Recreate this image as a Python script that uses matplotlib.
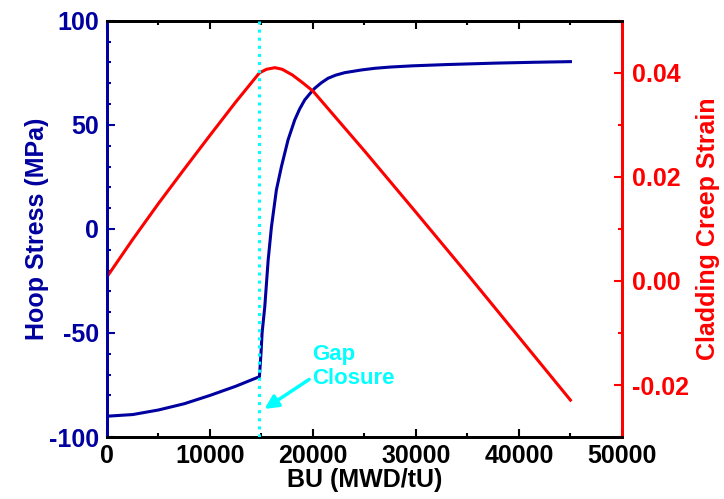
import matplotlib
matplotlib.use("Agg")
import matplotlib.pyplot as plt
from matplotlib.ticker import MultipleLocator, FormatStrFormatter

plt.rcParams['font.family'] = ['Liberation Sans', 'DejaVu Sans']
plt.rcParams['font.weight'] = 'bold'
plt.rcParams['axes.unicode_minus'] = False

# hoop stress (MPa) vs burnup
bu_stress = [0, 2500, 5000, 7500, 10000, 12500, 14800, 14950, 15060, 15320, 15650,
             15970, 16450, 16940, 17580, 18230, 18700, 19200, 19700, 20170, 20800,
             21460, 22200, 23080, 24700, 26000, 27500, 29710, 33000, 37790, 41500, 45000]
hoop_stress = [-90, -89.2, -87, -84, -80, -75.6, -71, -60, -50, -37.4, -14.9,
               1.1, 18.8, 30, 42.8, 52.4, 57.6, 62, 65, 67.6, 70.2,
               72.4, 73.9, 75.1, 76.4, 77.2, 77.8, 78.4, 79.0, 79.7, 80.1, 80.4]

# cladding creep strain vs burnup
bu_strain = [0, 2500, 5000, 7500, 10000, 12500, 14800, 15500, 16300, 17000, 18000,
             19000, 20000, 25000, 30000, 35000, 40000, 45000]
creep_strain = [0.0008, 0.0080, 0.0149, 0.0215, 0.0280, 0.0344, 0.0400, 0.0407, 0.0410,
                0.0407, 0.0396, 0.0381, 0.0365, 0.0250, 0.0132, 0.0013, -0.0108, -0.0229]

gap_closure_bu = 14800

navy = '#0000A0'
red = '#FF0000'
cyan = '#00FFFF'

fig = plt.figure(figsize=(7.24, 4.99), dpi=100)
ax1 = fig.add_axes([0.1478, 0.1242, 0.7112, 0.834])
ax2 = ax1.twinx()

ax1.plot(bu_stress, hoop_stress, color=navy, lw=2.2)
ax2.plot(bu_strain, creep_strain, color=red, lw=2.2)
ax2.axvline(gap_closure_bu, color=cyan, ls=':', lw=2.2, zorder=5)

ax1.set_xlim(0, 50000)
ax1.set_ylim(-100, 100)
ax2.set_ylim(-0.03, 0.05)

ax1.xaxis.set_major_locator(MultipleLocator(10000))
ax1.xaxis.set_minor_locator(MultipleLocator(5000))
ax1.yaxis.set_major_locator(MultipleLocator(50))
ax1.yaxis.set_minor_locator(MultipleLocator(10))
ax2.yaxis.set_major_locator(MultipleLocator(0.02))
ax2.yaxis.set_minor_locator(MultipleLocator(0.01))
ax2.yaxis.set_major_formatter(FormatStrFormatter('%.2f'))

ax1.tick_params(axis='x', which='both', direction='in', top=True, colors='black',
                labelsize=18, width=1.5, pad=5)
ax1.tick_params(axis='x', which='major', length=6)
ax1.tick_params(axis='x', which='minor', length=3)
ax1.tick_params(axis='y', which='both', direction='in', colors=navy, labelsize=18,
                width=1.5, pad=6)
ax1.tick_params(axis='y', which='major', length=6)
ax1.tick_params(axis='y', which='minor', length=3)
ax2.tick_params(axis='y', which='both', direction='in', colors=red, labelsize=18,
                width=1.5, pad=7)
ax2.tick_params(axis='y', which='major', length=6)
ax2.tick_params(axis='y', which='minor', length=3)

for ax in (ax1, ax2):
    for s in ax.spines.values():
        s.set_linewidth(2)
    ax.spines['left'].set_color(navy)
    ax.spines['right'].set_color(red)
    ax.spines['top'].set_color('black')
    ax.spines['bottom'].set_color('black')

ax1.set_xlabel('BU (MWD/tU)', fontsize=18, fontweight='bold', labelpad=0)
ax1.set_ylabel('Hoop Stress (MPa)', fontsize=18, fontweight='bold', color=navy, labelpad=0)
ax2.set_ylabel('Cladding Creep Strain', fontsize=18, fontweight='bold', color=red, labelpad=5)

ax1.annotate('Gap\nClosure', xy=(15300, -86.5), xytext=(19900, -66),
             color=cyan, fontsize=16, fontweight='bold', ha='left', va='center',
             arrowprops=dict(arrowstyle='-|>', color=cyan, lw=2.5, mutation_scale=20,
                             shrinkA=0, shrinkB=0, relpos=(0, 0.25)))

fig.savefig('out.png', dpi=100)
